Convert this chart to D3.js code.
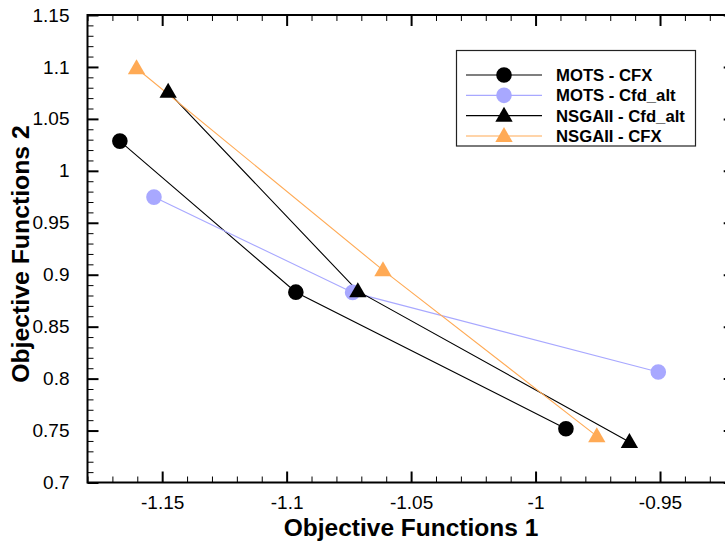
<!DOCTYPE html>
<html>
<head>
<meta charset="utf-8">
<script src="https://cdn.jsdelivr.net/npm/d3@7"></script>
<style>
  html, body { margin: 0; padding: 0; background: #fff; }
  svg { display: block; font-family: "Liberation Sans", Arial, Helvetica, sans-serif; }
</style>
</head>
<body>
<svg id="chart" width="725" height="546"></svg>
<script>
// Pareto fronts from two optimisers, each evaluated with two solvers
const seriesNames = ["MOTS - CFX", "MOTS - Cfd_alt", "NSGAII - Cfd_alt", "NSGAII - CFX"];
const motsCfxF1 = [-1.167, -1.0963, -0.9878];
const motsCfxF2 = [1.0286, 0.8832, 0.7518];
const motsAltF1 = [-1.1533, -1.0735, -0.9507];
const motsAltF2 = [0.9747, 0.8830, 0.8064];
const nsgaAltF1 = [-1.1476, -1.0714, -0.9623];
const nsgaAltF2 = [1.0761, 0.8842, 0.7390];
const nsgaCfxF1 = [-1.1603, -1.0613, -0.9754];
const nsgaCfxF2 = [1.0987, 0.9044, 0.7446];

const xTickValues = [-1.15, -1.1, -1.05, -1, -0.95];
const xTickLabels = ["-1.15", "-1.1", "-1.05", "-1", "-0.95"];
const yTickValues = [0.7, 0.75, 0.8, 0.85, 0.9, 0.95, 1, 1.05, 1.1, 1.15];
const yTickLabels = ["0.7", "0.75", "0.8", "0.85", "0.9", "0.95", "1", "1.05", "1.1", "1.15"];

const svg = d3.select("#chart");
const plotL = 87.5, plotT = 15, plotR = 734.7, plotB = 482.5;

const x = d3.scaleLinear().domain([-1.18, -0.92]).range([plotL, plotR]);
const y = d3.scaleLinear().domain([0.7, 1.15]).range([plotB, plotT]);

const styles = [
  { color: "#000000", marker: "circle" },
  { color: "#a8a8ff", marker: "circle" },
  { color: "#000000", marker: "triangle" },
  { color: "#ffaa55", marker: "triangle" }
];
const series = [
  { f1: motsCfxF1, f2: motsCfxF2 },
  { f1: motsAltF1, f2: motsAltF2 },
  { f1: nsgaAltF1, f2: nsgaAltF2 },
  { f1: nsgaCfxF1, f2: nsgaCfxF2 }
];

const circleSym = d3.symbol().type(d3.symbolCircle).size(Math.PI * 7.8 * 7.8);
const triSym = d3.symbol().type(d3.symbolTriangle).size(130);

function drawMarker(g, s, cx, cy) {
  if (s.marker === "circle") {
    g.append("path").attr("d", circleSym()).attr("transform", `translate(${cx},${cy})`).attr("fill", s.color);
  } else {
    g.append("path").attr("d", triSym()).attr("transform", `translate(${cx},${cy + 1})`).attr("fill", s.color);
  }
}

// axes: inward ticks on all four sides, majors and minors
const minorX = x.ticks(26).filter(v => !xTickValues.some(t => Math.abs(t - v) < 1e-9));
const minorY = y.ticks(45).filter(v => !yTickValues.some(t => Math.abs(t - v) < 1e-9));

function tickAxis(axisFn, scale, values, size, fmt) {
  return axisFn(scale).tickValues(values).tickSize(size).tickSizeOuter(0).tickPadding(8).tickFormat(fmt);
}

const axes = svg.append("g").attr("class", "axes");

function addAxis(axisFn, transform, majorSize, minorSize, majorVals, minorVals, scale, labels) {
  const gMin = axes.append("g").attr("transform", transform)
    .call(tickAxis(axisFn, scale, minorVals, minorSize, () => ""));
  gMin.select(".domain").remove();
  gMin.selectAll("line").attr("stroke", "#000").attr("stroke-width", 1);
  const gMaj = axes.append("g").attr("transform", transform)
    .call(tickAxis(axisFn, scale, majorVals, majorSize, labels ? ((d, i) => labels[i]) : () => ""));
  gMaj.select(".domain").remove();
  gMaj.selectAll("line").attr("stroke", "#000").attr("stroke-width", 2);
  gMaj.selectAll("text").attr("fill", "#000").attr("font-size", 19).attr("font-family", "Liberation Sans, Arial, sans-serif");
  return gMaj;
}

addAxis(d3.axisBottom, `translate(0,${plotB})`, -11, -6, xTickValues, minorX, x, xTickLabels)
  .selectAll("text").attr("transform", "translate(0,5)");
addAxis(d3.axisTop, `translate(0,${plotT})`, -11, -6, xTickValues, minorX, x, null);
addAxis(d3.axisLeft, `translate(${plotL},0)`, -11, -6, yTickValues, minorY, y, yTickLabels)
  .selectAll("text").attr("transform", "translate(-10,0)");
addAxis(d3.axisRight, `translate(${plotR},0)`, -11, -6, yTickValues, minorY, y, null);

// frame
axes.append("rect")
  .attr("x", plotL).attr("y", plotT).attr("width", plotR - plotL).attr("height", plotB - plotT)
  .attr("fill", "none").attr("stroke", "#000").attr("stroke-width", 2);

// series
const plot = svg.append("g").attr("class", "series");
const line = d3.line().x(d => x(d[0])).y(d => y(d[1]));
series.forEach((s, i) => {
  const pts = s.f1.map((v, k) => [v, s.f2[k]]);
  plot.append("path").datum(pts).attr("d", line)
    .attr("fill", "none").attr("stroke", styles[i].color).attr("stroke-width", 1.1);
});
series.forEach((s, i) => {
  const g = plot.append("g");
  s.f1.forEach((v, k) => drawMarker(g, styles[i], x(v), y(s.f2[k])));
});

// legend
const legend = svg.append("g").attr("class", "legend");
legend.append("rect")
  .attr("x", 456.5).attr("y", 50.5).attr("width", 239).attr("height", 95.5)
  .attr("fill", "#fff").attr("stroke", "#222").attr("stroke-width", 1.2);
const rowY = d3.scalePoint().domain(seriesNames).range([75, 136]);
seriesNames.forEach((name, i) => {
  const yy = rowY(name);
  legend.append("line").attr("x1", 466).attr("x2", 542).attr("y1", yy).attr("y2", yy)
    .attr("stroke", styles[i].color).attr("stroke-width", 1.1);
  drawMarker(legend, styles[i], 504, yy);
  legend.append("text").attr("x", 556).attr("y", yy).attr("dy", "0.36em")
    .attr("font-size", 16.7).attr("font-weight", "bold").attr("fill", "#000").text(name);
});

// axis titles
svg.append("text").attr("x", 411).attr("y", 535.5).attr("text-anchor", "middle")
  .attr("font-size", 24.5).attr("font-weight", "bold").attr("fill", "#000").text("Objective Functions 1");
svg.append("text").attr("transform", "translate(29,254) rotate(-90)").attr("text-anchor", "middle")
  .attr("font-size", 24.8).attr("font-weight", "bold").attr("fill", "#000").text("Objective Functions 2");
</script>
</body>
</html>
